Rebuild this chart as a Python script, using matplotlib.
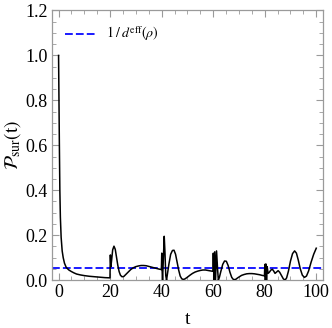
import numpy as np
import matplotlib
matplotlib.use("Agg")
import matplotlib.pyplot as plt
from matplotlib.ticker import MultipleLocator

# survival probability
t_vals = [0, 0.15, 0.3, 0.5, 0.7, 1.0, 1.4, 1.8, 2.3, 3.0, 4, 5, 6, 7, 8.5, 10, 12, 14, 16, 18, 19.95,
          20.1, 20.3, 20.6, 21.0, 21.5, 22.0, 22.5, 23.0, 23.5, 24.0, 24.6, 25.3, 26, 27, 28, 29, 30,
          31, 32, 33, 34, 35, 36, 37, 38, 39, 39.9,
          40.05, 40.2, 40.35, 40.6, 41.0, 41.3, 41.6, 41.9, 42.3, 42.8, 43.5, 44.2, 44.8, 45.4, 46,
          46.6, 47.2, 47.8, 48.4, 49, 50, 51, 52, 53, 54, 55, 56, 57, 58, 59, 59.9,
          60.05, 60.3, 60.6, 60.9, 61.3, 61.7, 62.0, 62.4, 63, 63.7, 64.4, 65.1, 65.8, 66.5, 67.2,
          67.9, 68.7, 69.5, 70.3, 71, 72, 73, 74, 75, 76, 77, 78, 79, 79.9,
          80.05, 80.25, 80.45, 80.7, 80.95, 81.3, 81.8, 82.4, 83.0, 83.5, 84.0, 84.5, 85.2, 85.8,
          86.5, 87.2, 87.9, 88.5, 89.2, 90, 90.8, 91.6, 92.3, 93, 93.8, 94.6, 95.4, 96.2, 97, 98,
          99, 100]
p_sur = [1.0, 0.8, 0.62, 0.40, 0.28, 0.19, 0.13, 0.10, 0.075, 0.056, 0.045, 0.038, 0.032, 0.027,
         0.023, 0.020, 0.017, 0.015, 0.013, 0.011, 0.010,
         0.112, 0.06, 0.09, 0.135, 0.151, 0.137, 0.10, 0.065, 0.038, 0.022, 0.015, 0.016, 0.024,
         0.036, 0.047, 0.055, 0.060, 0.063, 0.065, 0.065, 0.064, 0.061, 0.058, 0.055, 0.052,
         0.049, 0.047,
         0.12, 0.04, 0.0, 0.08, 0.195, 0.12, 0.02, 0.0, 0.03, 0.07, 0.115, 0.132, 0.133, 0.115,
         0.08, 0.045, 0.018, 0.006, 0.003, 0.005, 0.013, 0.022, 0.030, 0.036, 0.040, 0.043,
         0.045, 0.045, 0.043, 0.041, 0.039,
         0.12, 0.0, 0.126, 0.0, 0.13, 0.05, 0.0, 0.012, 0.04, 0.07, 0.085, 0.084, 0.065, 0.035,
         0.012, 0.002, 0.003, 0.01, 0.016, 0.021, 0.025, 0.028, 0.029, 0.029, 0.028, 0.026,
         0.024, 0.021, 0.019,
         0.07, 0.0, 0.072, 0.0, 0.06, 0.03, 0.035, 0.045, 0.048, 0.04, 0.03, 0.035, 0.042, 0.035,
         0.02, 0.006, 0.0, 0.01, 0.04, 0.085, 0.118, 0.13, 0.12, 0.09, 0.05, 0.022, 0.012, 0.018,
         0.04, 0.08, 0.115, 0.142]
inv_deff = 0.054

plt.rcParams['mathtext.fontset'] = 'stix'
plt.rcParams['font.family'] = ['Liberation Serif', 'DejaVu Serif']

fig = plt.figure(figsize=(3.32, 3.28), dpi=100)
ax = fig.add_axes([0.157, 0.146, 0.815, 0.822])

ax.plot(t_vals, p_sur, color='black', lw=1.1, zorder=3)
ax.axhline(inv_deff, color='#1a1aff', lw=1.4, linestyle=(0, (4, 1.6)), zorder=2)

ax.set_xlim(-2.5, 102.5)
ax.set_ylim(0, 1.2)
ax.xaxis.set_major_locator(MultipleLocator(20))
ax.xaxis.set_minor_locator(MultipleLocator(5))
ax.yaxis.set_major_locator(MultipleLocator(0.2))
ax.yaxis.set_minor_locator(MultipleLocator(0.05))
ax.yaxis.set_major_formatter(matplotlib.ticker.FormatStrFormatter('%.1f'))

for s in ax.spines.values():
    s.set_color('#9a9a9a')
    s.set_linewidth(0.9)
ax.tick_params(which='both', direction='in', top=True, right=True, color='#9a9a9a',
               labelsize=13, pad=3)
ax.tick_params(which='major', length=5, width=0.8)
ax.tick_params(which='minor', length=2.8, width=0.6)

ax.set_xlabel('t', fontsize=14, labelpad=7)
ax.set_ylabel(r'$\mathcal{P}_{\mathrm{sur}}(\mathrm{t})$', fontsize=14, labelpad=2)

# legend drawn by hand like the original
ax.plot([2.4, 15.0], [1.097, 1.097], color='#1a1aff', lw=1.4, linestyle=(0, (4, 1.6)))
ax.text(18.4, 1.097, r'$1\:/\:d^{\mathrm{eff}}(\rho)$', fontsize=10, va='center', ha='left')

fig.savefig('out.png', dpi=100)
